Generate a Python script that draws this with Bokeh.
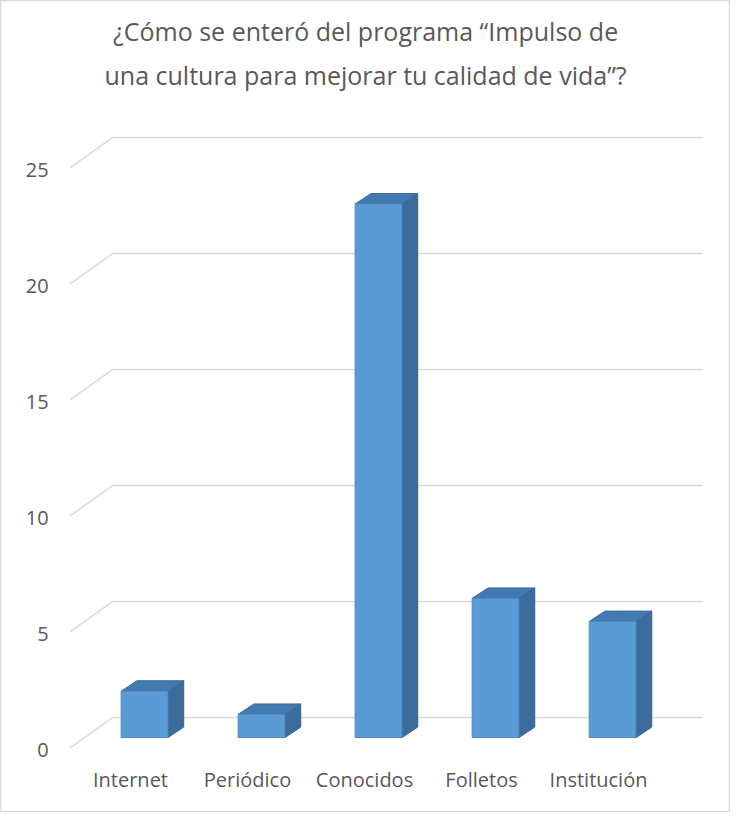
from bokeh.plotting import figure
from bokeh.models import Range1d
from bokeh.core.properties import value
from bokeh.embed import file_html
from bokeh.resources import INLINE

# ---- data ----
categories = ["Internet", "Periódico", "Conocidos", "Folletos", "Institución"]
counts = [2, 1, 23, 6, 5]
y_ticks = [0, 5, 10, 15, 20, 25]
title_lines = ["¿Cómo se enteró del programa “Impulso de",
               "una cultura para mejorar tu calidad de vida”?"]

FONT = "Open Sans"
GREY_TEXT = "#595959"

p = figure(width=730, height=812, output_backend="svg", toolbar_location=None,
           x_range=Range1d(-1.231, 5.008), y_range=Range1d(-3.23, 31.77),
           min_border=0, background_fill_color="white", border_fill_color="white")
p.axis.visible = False
p.grid.visible = False
p.outline_line_color = "#d9d9d9"
p.outline_line_width = 1.5

# 3D geometry (in data units)
hw = 0.2      # half width of the front face
ddx = 0.135   # depth offset along x
ddy = 0.45    # depth offset along value axis
wall_x0, wall_x1, front_x = -0.274, 4.769, -0.633
wall_dy, front_dy = 0.86, -0.43

# gridlines: diagonal floor/side segment + back-wall line
gx = [[front_x, wall_x0, wall_x1] for v in y_ticks]
gy = [[v + front_dy, v + wall_dy, v + wall_dy] for v in y_ticks]
p.multi_line(gx, gy, line_color="#d9d9d9", line_width=1.5)

# bars
front_xs, front_ys, side_xs, side_ys, top_xs, top_ys = [], [], [], [], [], []
for i, v in enumerate(counts):
    l, r = i - hw, i + hw
    front_xs.append([l, r, r, l]); front_ys.append([0, 0, v, v])
    side_xs.append([r, r + ddx, r + ddx, r]); side_ys.append([0, ddy, v + ddy, v])
    top_xs.append([l, r, r + ddx, l + ddx]); top_ys.append([v, v, v + ddy, v + ddy])

p.patches(side_xs, side_ys, fill_color="#3b6c9c", line_color="#35628e", line_width=1)
p.patches(top_xs, top_ys, fill_color="#4279b0", line_color="#3a6c9e", line_width=1)
p.patches(front_xs, front_ys, fill_color="#5b9bd5", line_color="#4f89bf", line_width=1)

# y tick labels
p.text(x=[-0.82] * len(y_ticks), y=[v - 0.52 for v in y_ticks],
       text=[str(v) for v in y_ticks], text_align="right", text_baseline="middle",
       text_font=value(FONT), text_font_size="20px", text_color=GREY_TEXT)

# category labels
p.text(x=[i - 0.12 for i in range(len(categories))], y=[-1.81] * len(categories),
       text=categories, text_align="center", text_baseline="middle",
       text_font=value(FONT), text_font_size="20px", text_color=GREY_TEXT)

# title
p.text(x=[1.889, 1.889], y=[30.47, 28.58], text=title_lines,
       text_align="center", text_baseline="middle",
       text_font=value(FONT), text_font_size="25px", text_color=GREY_TEXT)

open("out.html", "w").write(file_html(p, INLINE))
